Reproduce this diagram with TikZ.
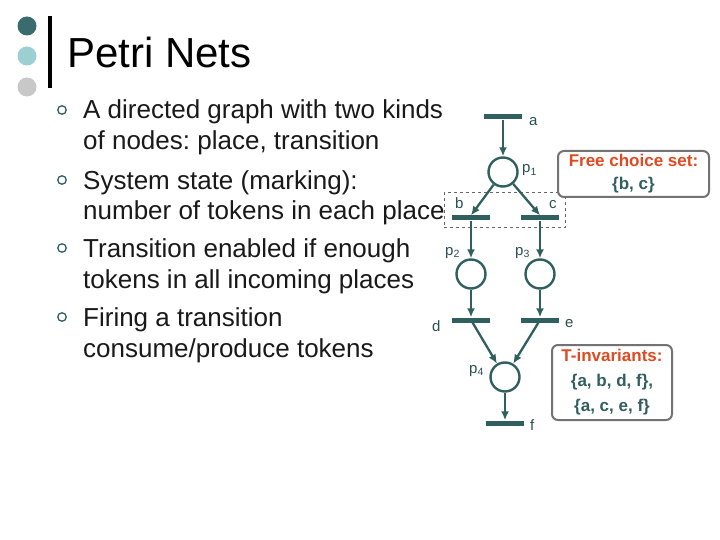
\documentclass[tikz,border=0pt]{standalone}
\usepackage{fontspec}
\setmainfont{Liberation Sans}
\usetikzlibrary{arrows.meta,positioning}

\definecolor{netcol}{HTML}{305F5F}
\definecolor{dotdark}{HTML}{3A6B6E}
\definecolor{dotlight}{HTML}{9BCFD0}
\definecolor{dotgrey}{HTML}{C8C8C8}
\definecolor{hilite}{HTML}{E04A20}
\frenchspacing

\begin{document}
\begin{tikzpicture}[
  x=1pt, y=-1pt,
  trans/.style={fill=netcol, inner sep=0pt, minimum width=38pt, minimum height=5pt},
  place/.style={circle, draw=netcol, line width=2.4pt, minimum size=29pt, inner sep=0pt},
  arc/.style={-{Latex[length=9pt,width=8pt]}, line width=2.3pt, draw=netcol},
  lbl/.style={anchor=base west, inner sep=0pt, text=netcol!85!black, font=\fontsize{15}{17}\selectfont},
  item/.style={anchor=base west, inner sep=0pt, align=left, text=black!90, font=\fontsize{26}{31}\selectfont},
  bullet/.style={circle, draw=netcol, line width=1.3pt, minimum size=8.5pt, inner sep=0pt},
  notebox/.style={draw=black!55, line width=2pt, rounded corners=6pt, fill=white, align=center,
                  inner sep=0pt, font=\fontsize{17}{25}\selectfont\bfseries, text=netcol},
  dot/.style={circle, minimum size=19pt, inner sep=0pt}
]
\useasboundingbox (0,0) rectangle (720,540);

% title
\node[dot, fill=dotdark] (d1) at (27,26) {};
\node[dot, fill=dotlight] (d2) at (27,56) {};
\node[dot, fill=dotgrey] (d3) at (27,87) {};
\fill[black] (48,16) rectangle (52,88);
\node[anchor=base west, inner sep=0pt, font=\fontsize{42}{50}\selectfont] (title) at (67,68) {Petri Nets};

% bullet list (base anchor = last line)
\foreach \y [count=\i] in {110,180,248,317}
  \node[bullet] (bul\i) at (62,\y) {};
\node[item] (t1) at (83,150) {A directed graph with two kinds\\of nodes: place, transition};
\node[item] (t2) at (83,220) {System state (marking):\\number of tokens in each place};
\node[item] (t3) at (83,288) {Transition enabled if enough\\tokens in all incoming places};
\node[item] (t4) at (83,357) {Firing a transition\\consume/produce tokens};

% free choice set
\node[draw=black!60, dashed, line width=1pt, minimum width=121pt, minimum height=35pt, inner sep=0pt]
  (fcs) at (504.5,210.5) {};

% the net
\node[trans] (a) at (503,117) {};
\node[place] (p1) at (503,172) {};
\node[trans] (b) at (471,218) {};
\node[trans] (c) at (540,218) {};
\node[place] (p2) at (471,274) {};
\node[place] (p3) at (540,274) {};
\node[trans] (d) at (471,320) {};
\node[trans] (e) at (540,320) {};
\node[place] (p4) at (505,377) {};
\node[trans] (f) at (505,423) {};

\draw[arc] (a) -- (p1);
\draw[arc] (p1) -- (b.north);
\draw[arc] (p1) -- (c.north);
\draw[arc] (b) -- (p2);
\draw[arc] (c) -- (p3);
\draw[arc] (p2) -- (d.north);
\draw[arc] (p3) -- (e.north);
\draw[arc] (d) -- (p4);
\draw[arc] (e) -- (p4);
\draw[arc] (p4) -- (f.north);

\node[lbl] (la) at (529,126) {a};
\node[lbl] (lp1) at (522,173) {p\textsubscript{1}};
\node[lbl] (lb) at (455,208) {b};
\node[lbl] (lc) at (549,209) {c};
\node[lbl] (lp2) at (445,255) {p\textsubscript{2}};
\node[lbl] (lp3) at (515,255) {p\textsubscript{3}};
\node[lbl] (ld) at (432,331) {d};
\node[lbl] (le) at (565,327) {e};
\node[lbl] (lp4) at (469,373) {p\textsubscript{4}};
\node[lbl] (lf) at (530,430) {f};

% notes
\node[notebox, minimum width=151pt, minimum height=46pt] (free) at (633.5,174)
  {\textcolor{hilite}{Free choice set:}\\[-2pt]\{b, c\}};
\node[notebox, minimum width=120pt, minimum height=75pt] (tinv) at (612,382.5)
  {\textcolor{hilite}{T-invariants:}\\\{a, b, d, f\},\\\{a, c, e, f\}};
\end{tikzpicture}
\end{document}
